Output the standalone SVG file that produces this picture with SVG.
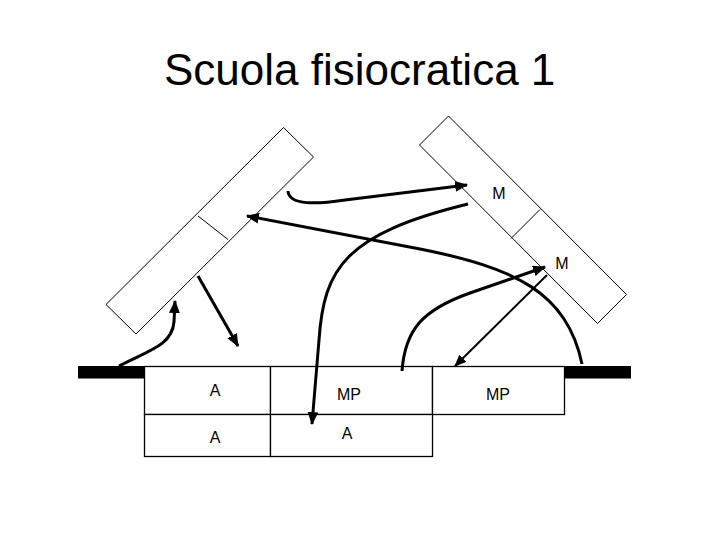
<svg xmlns="http://www.w3.org/2000/svg" width="720" height="540" viewBox="0 0 720 540">
<style>
.box{fill:#fff;stroke:#000;stroke-width:1}
.cell{fill:#fff;stroke:#000;stroke-width:1.3}
.lbl{font-family:"Liberation Sans",Arial,sans-serif;font-size:16px;fill:#000;text-anchor:middle}
.title{font-family:"Liberation Sans",Arial,sans-serif;font-size:44px;fill:#000}
.c{fill:none;stroke:#000;stroke-width:3;marker-end:url(#ah)}
.t{fill:none;stroke:#000;stroke-width:2;marker-end:url(#ah2)}
</style>
<defs>
<marker id="ah" markerUnits="userSpaceOnUse" viewBox="0 0 12 10" refX="11" refY="5" markerWidth="13" markerHeight="11" orient="auto">
<path d="M0,0 L12,5 L0,10 Z" fill="#000"/>
</marker>
<marker id="ah2" markerUnits="userSpaceOnUse" viewBox="0 0 12 10" refX="11" refY="5" markerWidth="12" markerHeight="10" orient="auto">
<path d="M0,0 L12,5 L0,10 Z" fill="#000"/>
</marker>
</defs>
<rect width="720" height="540" fill="#fff"/>
<text class="title" x="164" y="85">Scuola fisiocratica 1</text>

<g id="left-panel">
<polygon class="box" points="283.5,127.5 313.5,157 136,334 106,304.5"/>
<line class="box" x1="198" y1="216" x2="228" y2="239.5"/>
</g>
<g id="right-panel">
<polygon class="box" points="448.5,116 419.5,145 597.5,323.5 626.5,294.5"/>
<line class="box" x1="511" y1="238.5" x2="540" y2="209.5"/>
<text class="lbl" x="499" y="199">M</text>
<text class="lbl" x="562" y="269">M</text>
</g>
<g id="bars">
<rect x="78" y="366" width="67" height="12.5" fill="#000"/>
<rect x="564" y="366" width="67" height="12.5" fill="#000"/>
</g>
<g id="table">
<rect class="cell" x="144.5" y="366.5" width="126" height="48"/>
<rect class="cell" x="270.5" y="366.5" width="162" height="48"/>
<rect class="cell" x="432.5" y="366.5" width="132" height="48"/>
<rect class="cell" x="144.5" y="414.5" width="126" height="42"/>
<rect class="cell" x="270.5" y="414.5" width="162" height="42"/>
<text class="lbl" x="215" y="396">A</text>
<text class="lbl" x="349" y="400">MP</text>
<text class="lbl" x="498" y="400">MP</text>
<text class="lbl" x="215" y="443">A</text>
<text class="lbl" x="347" y="439">A</text>
</g>
<g id="connectors">
<path class="c" d="M288,191 C289,206 318,204 345,200 L467,185"/>
<path class="c" d="M582,364 C567,292 515,268 420,249 L247,216"/>
<path class="c" d="M468,204 C345,234 324,268 319,340 L312,424"/>
<path class="c" d="M198,276 L238,346"/>
<path class="c" d="M119,366 C150,350 172,345 174,322 L175,301"/>
<path class="c" d="M402,371 C405,330 422,310 470,293 L545,267"/>
<path class="t" d="M547,275 L455,366"/>
</g>
</svg>
